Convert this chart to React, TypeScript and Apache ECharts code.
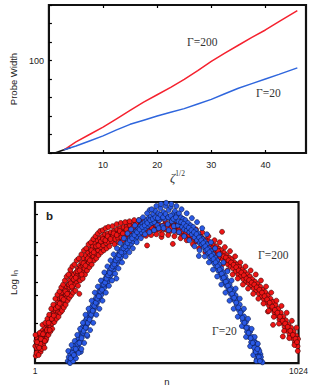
import React, { useEffect, useRef } from 'react';
import * as echarts from 'echarts';

// ---------- Panel a: probe width vs zeta^(1/2) ----------
const zetaValues = [2.8, 5, 7.5, 10, 12.5, 15, 17.5, 20, 22.5, 25, 27.5, 30, 32.5, 35, 37.5, 40, 42.5, 45.9];
const widthG200 = [3.5, 12, 20, 28, 37, 46, 55, 63, 71, 79.5, 89, 99, 108, 116.5, 125, 133, 142, 154];
const widthG20 = [3.5, 7.5, 13, 18.5, 25, 31, 35.5, 40, 44, 48, 53, 58, 64, 70, 75, 80, 85, 92];
const startZeta = [1.1, 2.8, 4];
const startWidth = [0, 3.5, 6];
const topYTickLabels = [100];
const topXTickLabels = [10, 20, 30, 40];

// ---------- Panel b: Log I_n vs n ----------
const nTickLabels = [1, 1024];
const logTicks = [1, 1.69, 2, 2.68, 3, 3.69];

const pointsG200: number[][] = [
  [2,0.42],[4,0.18],[6,0.55],[8,0.35],[10,0.62],[12,0.3],[14,0.5],[16,0.72],[18,0.44],[20,0.58],[23,0.28],[25,0.66],[27,0.5],[29,0.8],[31,0.6],[33,0.45],[35,0.75],[37,0.62],[40,0.88],[42,0.55],[44,0.72],[46,0.95],[48,0.68],[50,0.85],[52,1.02],[55,0.78],[57,0.92],[59,1.12],
  [61,0.9],[63,1.08],[65,1.2],[67,0.98],[69,1.15],[71,1.32],[73,1.05],[75,1.25],[77,1.4],[79,1.18],[81,1.3],[83,1.45],[85,1.2],[87,1.35],[89,1.55],[91,1.28],[93,1.42],[95,1.6],[98,1.38],[100,1.5],[102,1.68],[104,1.45],[107,1.58],[109,1.75],[111,1.5],[114,1.65],[116,1.82],[118,1.55],[121,1.7],[123,1.9],[125,1.62],[128,1.78],[130,1.95],[132,1.72],[135,1.88],[137,2.05],[140,2.24],[142,1.95],[145,2.12],[147,1.85],[150,2.0],
  [152,2.2],[155,1.95],[157,2.1],[160,2.25],[162,2.02],[165,2.18],[167,2.35],[170,2.08],[172,2.28],[173,1.72],[175,2.42],[178,2.2],[180,2.38],[183,2.5],[185,2.25],[188,2.42],[190,2.6],[193,2.35],[196,2.5],[198,2.68],[201,2.42],[204,2.58],[207,2.75],[210,2.5],[213,2.66],[216,2.82],[219,2.58],[223,2.96],[222,2.72],[225,2.9],[228,2.65],[231,2.8],[234,2.98],[237,2.72],[240,2.88],[243,3.05],[246,2.8],[250,2.95],[253,3.1],[256,2.88],[260,3.0],[263,3.15],[266,2.92],[270,3.06],[273,3.2],[277,2.98],[280,3.1],[284,3.22],[288,3.0],[292,3.14],
  [296,3.25],[300,3.02],[304,3.15],[308,3.28],[312,3.08],[316,3.2],[320,3.32],[324,3.1],[328,3.22],[332,3.35],[336,3.12],[340,3.25],[345,3.38],[349,3.15],[353,3.28],[357,3.4],[361,3.49],[361,3.18],[366,3.3],[370,3.42],[375,3.2],[379,3.32],[384,3.45],[388,3.22],[393,3.35],[398,3.46],[402,3.25],[407,3.36],[412,3.48],[416,3.26],[421,3.38],[426,3.5],[430,3.28],[435,3.4],[436,2.92],[440,3.5],[445,3.3],[450,3.42],
  [455,3.45],[460,3.3],[465,3.4],[470,3.52],[475,3.32],[480,3.44],[486,3.3],[492,3.13],[497,3.4],[503,3.32],[508,3.46],[514,3.3],[520,3.42],[526,3.28],[532,3.38],[536,2.96],[538,3.48],[544,3.3],[550,3.4],[556,3.25],[562,3.36],[568,3.22],[574,3.34],[580,3.2],[586,3.3],[592,3.15],[598,3.28],[604,3.12],[610,3.24],[616,3.08],[622,3.2],[628,3.02],[634,3.15],[640,3.0],
  [645,3.15],[650,2.95],[655,3.08],[660,2.9],[665,3.05],[670,2.85],[675,3.02],[680,2.82],[685,2.96],[690,2.78],[695,2.92],[700,2.72],[705,2.9],[710,2.7],[715,2.84],[720,2.62],[724,2.8],[727,3.26],[730,2.58],[735,2.74],[740,2.52],[745,2.68],[750,2.45],[755,2.62],[760,2.4],[765,2.58],[770,2.35],[775,2.5],[780,2.28],[785,2.45],[790,2.2],[795,2.4],[800,2.15],[805,2.32],[810,2.08],[815,2.26],[820,2.02],[825,2.2],
  [830,1.98],[835,2.15],[840,1.92],[845,2.08],[850,1.85],[855,2.02],[860,1.8],[865,1.96],[870,1.72],[875,1.9],[880,1.65],[885,1.82],[890,1.58],[895,1.76],[900,1.5],[905,1.28],[905,1.68],[910,1.42],[915,1.6],[920,1.35],[925,0.95],[925,1.52],[930,1.26],[935,1.44],[940,1.18],[945,1.35],[950,1.08],[955,1.25],[960,1.0],[963,0.66],[965,1.15],[970,0.9],[975,1.06],[980,0.8],[985,0.96],[990,0.7],[995,0.88],[1000,0.62],[1005,0.78],[1010,0.52],[1015,0.68],[1020,0.42],[1022,0.6],
  [3,0.7],[7,0.25],[11,0.45],[15,0.2],[19,0.75],[22,0.48],[26,0.35],[30,0.95],[34,0.58],[38,0.38],[41,1.0],[45,0.6],[49,1.1],[53,0.7],[56,1.2],[60,0.78],[64,1.35],[68,0.85],[72,1.45],[76,1.02],[80,1.6],[84,1.1],[88,1.7],[92,1.15],[96,1.78],[99,1.25],[103,1.88],[106,1.3],[110,1.95],[113,1.38],[117,2.05],[120,1.45],[124,2.15],[127,1.55],[131,2.2],[134,1.62],[138,2.32],[141,1.68],[146,2.4],[149,1.75],
  [154,2.45],[158,1.8],[163,2.55],[168,1.92],[171,2.6],[176,2.05],[181,2.7],[186,2.1],[191,2.8],[195,2.2],[200,2.85],[203,2.3],[209,2.95],[212,2.38],[218,3.0],[221,2.45],[227,3.08],[230,2.55],[236,3.15],[239,2.6],[245,3.22],[248,2.68],[254,3.28],[258,2.75],[264,3.3],[268,2.8],[275,3.35],[279,2.85],[286,3.38],[290,2.9],
  [302,3.4],[310,2.95],[318,3.45],[326,3.0],[334,3.48],[343,3.05],[351,3.5],[359,3.08],[368,3.52],[377,3.1],[386,3.55],[395,3.12],[404,3.55],[413,3.15],[423,3.56],[432,3.16],[442,3.58],[452,3.18],[462,3.56],[472,3.2],[482,3.55],[494,3.2],[506,3.54],[518,3.18],[530,3.52],[542,3.15],[554,3.5],[566,3.1],[578,3.45],[590,3.05],[602,3.4],[614,2.95],[626,3.32],[638,2.85],[650,3.25],[662,2.75],[674,3.15],[686,2.65],[698,3.05],
  [708,2.55],[718,3.0],[728,2.45],[738,2.88],[748,2.3],[758,2.78],[768,2.2],[778,2.65],[788,2.1],[798,2.5],[808,1.95],[818,2.4],[828,1.85],[838,2.3],[848,1.72],[858,2.2],[868,1.6],[878,2.05],[888,1.48],[898,1.9],[908,1.3],[918,1.75],[928,1.15],[938,1.55],[948,0.98],[958,1.42],[968,0.8],[978,1.25],[988,0.62],[998,1.05],[1008,0.45],[1016,0.88],[1021,0.3],
  [9,0.52],[17,0.38],[24,0.6],[32,0.72],[39,0.55],[47,0.82],[54,1.0],[58,0.82],[66,1.1],[74,1.18],[82,1.36],[90,1.4],[97,1.48],[105,1.62],[112,1.58],[119,1.78],[126,1.72],[133,1.95],[139,1.98],[144,1.9],[151,2.08],[159,2.12],[166,2.28],[174,2.3],[182,2.2],[189,2.48],[197,2.42],[206,2.6],[214,2.55],[220,2.8],[229,2.75],[238,2.9],[247,2.92],[257,3.02],[265,3.08],[274,3.05],[283,3.15],[294,3.08],[306,3.22],[318,3.18],[330,3.28],[342,3.22],[356,3.32],[371,3.28],[383,3.38],[397,3.3],[410,3.4],[425,3.35],[439,3.42],[454,3.36],[468,3.44],[483,3.36],[499,3.42],[515,3.38],[529,3.35],[546,3.4],[560,3.3],[575,3.28],[588,3.24],[600,3.18],[612,3.15],[624,3.1],[636,3.06],[648,3.02],[658,3.0],[668,2.95],[678,2.92],[688,2.85],[698,2.82],[712,2.78],[722,2.7],[733,2.65],[742,2.62],[752,2.55],[762,2.5],[772,2.44],[782,2.38],[792,2.3],[802,2.25],[812,2.18],[822,2.1],[832,2.06],[842,2.0],[852,1.95],[862,1.88],[872,1.82],[882,1.75],[892,1.66],[902,1.58],[912,1.5],[922,1.4],[932,1.32],[942,1.25],[952,1.15],[962,1.05],[972,0.98],[982,0.9],[992,0.8],[1002,0.7],[1012,0.6],[1018,0.52]
];

const pointsG20: number[][] = [
  [128,0.05],[132,0.15],[135,0.02],[138,0.22],[141,0.1],[144,0.3],[147,0.18],[150,0.38],[153,0.25],[156,0.15],[158,0.45],[161,0.32],[164,0.55],[167,0.4],[170,0.62],[172,0.48],[175,0.7],[178,0.55],[179,0.28],[180,0.8],[183,0.66],[186,0.9],[188,0.75],[191,0.98],[194,0.85],[196,1.05],[199,0.9],[202,1.12],[204,0.67],[205,0.98],[208,1.2],[211,1.05],[214,1.3],[217,1.15],[220,1.38],[223,1.22],[226,1.45],[229,1.32],[232,1.55],[235,1.4],[238,1.62],[241,1.48],[244,1.7],[247,1.55],[250,1.78],[253,1.62],[256,1.85],[259,1.7],
  [262,1.95],[265,1.78],[268,2.02],[271,1.88],[274,2.1],[277,1.95],[280,2.18],[283,2.02],[286,2.25],[289,2.1],[292,2.32],[295,2.18],[298,2.4],[301,2.25],[304,2.48],[307,2.32],[310,2.55],[313,2.4],[316,2.62],[317,2.1],[320,2.48],[323,2.7],[326,2.55],[330,2.76],[334,2.62],[338,2.84],[342,2.7],[346,2.9],[350,2.76],[354,2.96],[358,2.82],[362,3.04],[366,2.9],[370,3.1],[374,2.96],[378,3.16],[382,3.02],[386,3.22],[390,3.08],[394,3.28],[398,3.14],[402,3.34],[406,3.2],[410,3.4],[414,3.25],[418,3.46],[422,3.3],[426,3.5],[430,3.36],[434,3.55],[438,3.4],[442,3.6],[446,3.8],[446,3.44],[450,3.64],[455,3.48],[460,3.7],
  [464,3.5],[468,3.78],[472,3.6],[476,3.42],[480,3.72],[484,3.55],[488,3.85],[492,3.62],[496,3.4],[500,3.75],[504,3.58],[508,3.9],[512,3.66],[516,3.45],[520,3.8],[524,3.6],[528,3.88],[532,3.52],[536,3.7],[540,3.4],[544,3.78],[548,3.55],[552,3.68],[556,3.42],[560,3.72],[564,3.5],[568,3.62],[572,3.38],[576,3.58],[580,3.32],[585,3.55],[590,3.3],[595,3.48],[600,3.25],[605,3.42],[610,3.2],[615,3.38],[620,3.12],[625,3.3],[630,3.05],[635,3.22],[637,2.66],[640,2.98],
  [644,3.12],[648,2.95],[652,3.08],[656,2.88],[660,3.02],[664,2.8],[668,2.95],[672,2.72],[676,2.85],[680,2.62],[684,2.78],[688,2.55],[692,2.7],[696,2.48],[700,2.62],[704,2.4],[708,2.55],[712,2.3],[716,2.45],[720,2.2],[724,2.35],[728,2.1],[732,2.25],[736,2.0],[740,2.15],[744,1.92],[748,2.05],[752,1.82],[756,1.95],[760,1.72],[764,1.85],[768,1.62],[772,1.78],[776,1.55],[780,1.68],[784,1.45],[788,1.58],[792,1.32],[796,1.45],[800,1.18],[804,1.3],[808,1.05],[812,1.16],[816,0.9],[820,1.02],[824,0.78],[828,0.88],[832,0.65],[836,0.78],[840,0.52],[844,0.65],[848,0.42],[852,0.55],[856,0.3],[858,0.5],[860,0.45],[862,0.1],[864,0.2],[866,0.28],[868,0.35],[870,0.25],[872,0.1],[876,0.22],[880,0.05],
  [130,0.3],[137,0.0],[143,0.45],[149,0.05],[155,0.55],[160,0.12],[165,0.7],[170,0.25],[176,0.85],[181,0.35],[187,1.0],[192,0.5],[197,1.2],[203,0.7],[209,1.35],[215,0.82],[221,1.55],[227,1.0],[233,1.75],[239,1.2],[245,1.9],[251,1.35],[257,2.05],[263,1.55],[270,2.25],[276,1.75],[282,2.4],[288,1.92],[294,2.55],[300,2.05],[306,2.7],[312,2.22],[319,2.85],[325,2.35],[332,2.98],[339,2.5],[346,3.1],[353,2.65],[360,3.22],[367,2.75],[374,3.32],[381,2.85],[389,3.42],[396,3.0],[404,3.55],[412,3.1],[420,3.62],[428,3.2],[436,3.72],[445,3.25],[454,3.82],[463,3.3],[472,3.9],[481,3.35],[490,3.95],[500,3.35],[510,3.98],[520,3.3],[530,3.95],[540,3.28],[550,3.9],[560,3.25],[570,3.82],[580,3.15],[590,3.72],[600,3.05],[610,3.6],[620,2.9],[630,3.5],[640,2.8],[650,3.35],[660,2.65],[668,3.2],[676,2.5],[684,3.0],[692,2.32],[700,2.85],[708,2.15],[716,2.7],[724,1.95],[732,2.5],[740,1.75],[748,2.28],[756,1.55],[764,2.05],[772,1.35],[780,1.85],[788,1.15],[796,1.6],[804,0.92],[812,1.35],[820,0.65],[828,1.1],[836,0.42],[842,0.85],[848,0.2],[854,0.65],[860,0.05],[866,0.48],[872,0.3],[878,0.15],[884,0.02],
  [139,0.12],[146,0.25],[152,0.2],[159,0.35],[166,0.48],[173,0.5],[182,0.62],[190,0.8],[198,0.88],[206,1.0],[213,1.08],[219,1.2],[225,1.3],[231,1.42],[237,1.5],[243,1.6],[249,1.66],[255,1.78],[261,1.82],[267,1.95],[273,2.0],[279,2.1],[285,2.18],[291,2.24],[297,2.35],[303,2.4],[309,2.45],[315,2.55],[322,2.6],[328,2.68],[336,2.75],[344,2.85],[352,2.9],[360,2.98],[369,3.05],[378,3.1],[387,3.18],[397,3.25],[407,3.32],[417,3.38],[427,3.42],[437,3.48],[448,3.55],[458,3.58],[468,3.62],[478,3.6],[488,3.68],[498,3.62],[508,3.7],[518,3.62],[528,3.66],[538,3.58],[548,3.62],[558,3.52],[568,3.5],[578,3.46],[588,3.4],[598,3.36],[608,3.3],[618,3.25],[628,3.2],[638,3.12],[646,3.05],[654,2.98],[662,2.9],[670,2.82],[678,2.75],[686,2.66],[694,2.58],[702,2.5],[710,2.4],[718,2.32],[726,2.22],[734,2.12],[742,2.02],[750,1.92],[758,1.82],[766,1.72],[774,1.62],[782,1.5],[790,1.38],[798,1.25],[806,1.12],[814,1.0],[822,0.88],[830,0.75],[838,0.62],[846,0.5],[852,0.38],[858,0.28],[864,0.35],[870,0.15],[874,0.05]
];

const RED = '#f5222f';
const BLUE = '#2f66dd';
const SANS = '"Liberation Sans", Arial, sans-serif';
const SERIF = '"Liberation Serif", "Times New Roman", serif';

export default function App() {
  const ref = useRef<HTMLDivElement>(null);
  useEffect(() => {
    if (!ref.current) return;
    const chart = echarts.init(ref.current, null, { renderer: 'svg' });
    const tickStyle = { color: '#000', width: 1.2 };
    const option: any = {
      animation: false,
      backgroundColor: '#fff',
      grid: [
        { left: 32, top: 5, width: 274, height: 148, show: true, borderColor: '#111', borderWidth: 2.2, backgroundColor: 'transparent' },
        { left: 31, top: 202, width: 272, height: 165.5, show: true, borderColor: '#111', borderWidth: 2.2, backgroundColor: 'transparent' },
      ],
      xAxis: [
        {
          type: 'value', gridIndex: 0, min: 0, max: 47.5, interval: 10, position: 'bottom',
          axisLine: { show: false }, splitLine: { show: false },
          axisTick: { show: true, inside: true, length: 3, lineStyle: tickStyle, customValues: topXTickLabels },
          axisLabel: { customValues: topXTickLabels, fontSize: 9, color: '#222', fontFamily: SANS, margin: 7 },
          name: '{z|ζ}{s|1/2}', nameLocation: 'middle', nameGap: 11,
          nameTextStyle: {
            rich: {
              z: { fontFamily: SERIF, fontStyle: 'italic', fontSize: 13, color: '#333' },
              s: { fontFamily: SERIF, fontSize: 7.5, color: '#333', padding: [0, 0, 7, 0] },
            },
          },
        },
        {
          type: 'value', gridIndex: 0, min: 0, max: 47.5, interval: 10, position: 'top',
          axisLine: { show: false }, splitLine: { show: false },
          axisTick: { show: true, inside: true, length: 3, lineStyle: tickStyle, customValues: topXTickLabels },
          axisLabel: { show: false },
        },
        {
          type: 'value', gridIndex: 1, min: 1, max: 1024, position: 'bottom',
          axisLine: { show: false }, splitLine: { show: false }, axisTick: { show: false },
          axisLabel: { customValues: nTickLabels, formatter: (v: number) => String(v), fontSize: 8.5, color: '#222', fontFamily: SANS, margin: 3 },
          name: 'n', nameLocation: 'middle', nameGap: 4,
          nameTextStyle: { fontSize: 9.5, color: '#222', fontFamily: SANS },
        },
      ],
      yAxis: [
        {
          type: 'value', gridIndex: 0, min: 0, max: 160, interval: 20,
          axisLine: { show: false }, splitLine: { show: false },
          axisTick: { show: true, inside: true, length: 3, lineStyle: tickStyle },
          axisLabel: { customValues: topYTickLabels, fontSize: 9, color: '#222', fontFamily: SANS, margin: 5 },
          name: 'Probe Width', nameLocation: 'middle', nameGap: 20,
          nameTextStyle: { fontSize: 9.5, color: '#222', fontFamily: SANS },
        },
        {
          type: 'value', gridIndex: 1, min: 0, max: 4,
          axisLine: { show: false }, splitLine: { show: false },
          axisTick: { show: true, inside: true, length: 3, lineStyle: tickStyle, customValues: logTicks },
          axisLabel: { show: false },
          name: '{a|Log I}{b|n}', nameLocation: 'middle', nameGap: 16,
          nameTextStyle: {
            rich: {
              a: { fontSize: 9.5, color: '#222', fontFamily: SANS },
              b: { fontSize: 7, color: '#222', fontFamily: SANS, padding: [5, 0, 0, 0] },
            },
          },
        },
      ],
      series: [
        {
          type: 'line', xAxisIndex: 0, yAxisIndex: 0, showSymbol: false, symbol: 'none',
          data: startZeta.map((z, i) => [z, startWidth[i]]),
          lineStyle: { color: '#111', width: 1.6 },
        },
        {
          type: 'line', xAxisIndex: 0, yAxisIndex: 0, showSymbol: false, symbol: 'none',
          data: zetaValues.map((z, i) => [z, widthG200[i]]),
          lineStyle: { color: RED, width: 1.5 },
        },
        {
          type: 'line', xAxisIndex: 0, yAxisIndex: 0, showSymbol: false, symbol: 'none',
          data: zetaValues.map((z, i) => [z, widthG20[i]]),
          lineStyle: { color: BLUE, width: 1.5 },
        },
        {
          type: 'scatter', xAxisIndex: 2, yAxisIndex: 1, symbol: 'circle', symbolSize: 5,
          data: pointsG200,
          itemStyle: { color: '#ee1515', borderColor: '#3a0505', borderWidth: 0.6, opacity: 1 },
        },
        {
          type: 'scatter', xAxisIndex: 2, yAxisIndex: 1, symbol: 'circle', symbolSize: 5,
          data: pointsG20,
          itemStyle: { color: '#2a5ae6', borderColor: '#0c1a4a', borderWidth: 0.6, opacity: 1 },
        },
      ],
      graphic: [
        { type: 'text', left: 187, top: 36, style: { text: 'Γ=200', font: `11.5px ${SERIF}`, fill: '#333' } },
        { type: 'text', left: 256, top: 87, style: { text: 'Γ=20', font: `11.5px ${SERIF}`, fill: '#333' } },
        { type: 'text', left: 258, top: 249, style: { text: 'Γ=200', font: `11.5px ${SERIF}`, fill: '#333' } },
        { type: 'text', left: 212, top: 325, style: { text: 'Γ=20', font: `11.5px ${SERIF}`, fill: '#333' } },
        { type: 'text', left: 46, top: 210, style: { text: 'b', font: `bold 11.5px ${SANS}`, fill: '#222' } },
      ],
    };
    chart.setOption(option);
    return () => chart.dispose();
  }, []);
  return <div ref={ref} style={{ position: 'absolute', left: 0, top: 0, width: 311, height: 387 }} />;
}
